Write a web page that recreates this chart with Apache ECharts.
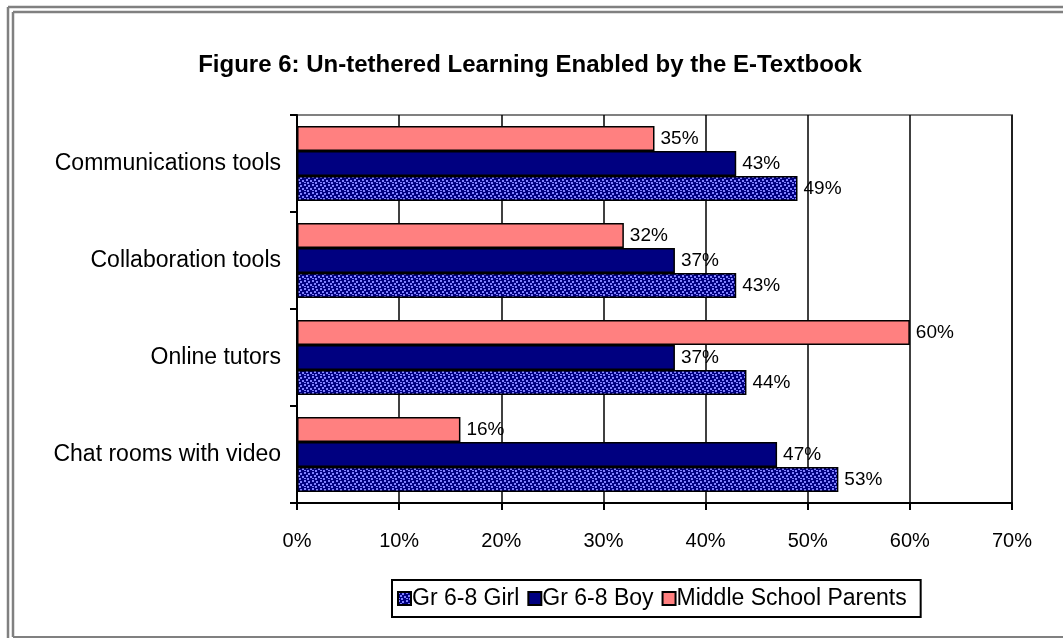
<!DOCTYPE html>
<html>
<head>
<meta charset="utf-8">
<script src="https://cdn.jsdelivr.net/npm/echarts@6/dist/echarts.min.js"></script>
<style>
  html, body { margin: 0; padding: 0; background: #fff; }
  #chart { width: 1063px; height: 638px; }
</style>
</head>
<body>
<div id="chart"></div>
<script>
// categories, bottom to top as drawn
const categories = ['Chat rooms with video', 'Online tutors', 'Collaboration tools', 'Communications tools']
const girlValues = [53, 44, 43, 49]
const boyValues = [47, 37, 37, 43]
const parentValues = [16, 60, 32, 35]
const xTicks = [0, 10, 20, 30, 40, 50, 60, 70]

// dotted fill for the girl series
function makePattern() {
  const c = document.createElement('canvas')
  c.width = 8
  c.height = 8
  const ctx = c.getContext('2d')
  ctx.fillStyle = '#000080'
  ctx.fillRect(0, 0, 8, 8)
  ctx.fillStyle = '#8080ff'
  ctx.fillRect(0, 0, 2, 2)
  ctx.fillRect(4, 1, 2, 2)
  ctx.fillRect(2, 3, 2, 2)
  ctx.fillRect(6, 4, 2, 2)
  ctx.fillRect(0, 6, 2, 1)
  ctx.fillRect(3, 6, 2, 2)
  return c
}

const chart = echarts.init(document.getElementById('chart'))
const font = 'Liberation Sans, Arial, sans-serif'
const labelCfg = {
  show: true,
  position: 'right',
  distance: 6,
  color: '#000',
  fontFamily: font,
  fontSize: 19,
  formatter: '{c}%'
}
const barBorder = { borderColor: '#000', borderWidth: 1.5 }

const option = {
  animation: false,
  backgroundColor: '#fff',
  title: {
    text: 'Figure 6: Un-tethered Learning Enabled by the E-Textbook',
    left: 525,
    textAlign: 'center',
    top: 48,
    textStyle: { fontFamily: font, fontSize: 24, fontWeight: 'bold', color: '#000' }
  },
  legend: {
    data: ['Gr 6-8 Girl', 'Gr 6-8 Boy', 'Middle School Parents'],
    left: 392,
    top: 580,
    borderColor: '#000',
    borderWidth: 2,
    padding: [7, 14, 7, 5],
    itemGap: 8,
    itemWidth: 13,
    itemHeight: 13,
    icon: 'rect',
    textStyle: { fontFamily: font, fontSize: 23, color: '#000', padding: [0, 0, 0, -4] }
  },
  grid: {
    left: 297,
    top: 115,
    right: 51,
    bottom: 135,
    show: true,
    borderColor: '#808080',
    borderWidth: 2
  },
  xAxis: {
    type: 'value',
    min: xTicks[0],
    max: xTicks[xTicks.length - 1],
    interval: 10,
    axisLine: { show: true, lineStyle: { color: '#000', width: 2 } },
    axisTick: { show: true, length: 7, lineStyle: { color: '#000', width: 2 } },
    axisLabel: { margin: 28, color: '#000', fontFamily: font, fontSize: 20, formatter: '{value}%' },
    splitLine: { show: true, lineStyle: { color: '#000', width: 1.5 } }
  },
  yAxis: {
    type: 'category',
    data: categories,
    axisLine: { show: true, lineStyle: { color: '#000', width: 2 } },
    axisTick: { show: true, length: 7, lineStyle: { color: '#000', width: 2 } },
    axisLabel: { margin: 16, color: '#000', fontFamily: font, fontSize: 23 }
  },
  // parents first so it sits on top inside each band, girls at the bottom
  series: [
    {
      name: 'Middle School Parents',
      type: 'bar',
      data: parentValues,
      barWidth: 25,
      barGap: '0%',
      itemStyle: Object.assign({ color: '#ff8080' }, barBorder),
      label: labelCfg
    },
    {
      name: 'Gr 6-8 Boy',
      type: 'bar',
      data: boyValues,
      barWidth: 25,
      barGap: '0%',
      itemStyle: Object.assign({ color: '#000080' }, barBorder),
      label: labelCfg
    },
    {
      name: 'Gr 6-8 Girl',
      type: 'bar',
      data: girlValues,
      barWidth: 25,
      barGap: '0%',
      itemStyle: Object.assign({ color: { image: makePattern(), repeat: 'repeat' } }, barBorder),
      label: labelCfg
    }
  ],
  graphic: [
    // double gray frame, cropped on the right like the source
    { type: 'line', shape: { x1: 8, y1: 7, x2: 8, y2: 638 }, style: { stroke: '#808080', lineWidth: 2.5 } },
    { type: 'line', shape: { x1: 8, y1: 7, x2: 1063, y2: 7 }, style: { stroke: '#808080', lineWidth: 2.5 } },
    { type: 'line', shape: { x1: 13, y1: 12, x2: 13, y2: 637 }, style: { stroke: '#808080', lineWidth: 2.5 } },
    { type: 'line', shape: { x1: 13, y1: 12, x2: 1063, y2: 12 }, style: { stroke: '#808080', lineWidth: 2.5 } },
    { type: 'line', shape: { x1: 13, y1: 637, x2: 1063, y2: 637 }, style: { stroke: '#808080', lineWidth: 2 } }
  ]
}
chart.setOption(option)
window.onresize = function() {
  chart.resize()
}
</script>
</body>
</html>
